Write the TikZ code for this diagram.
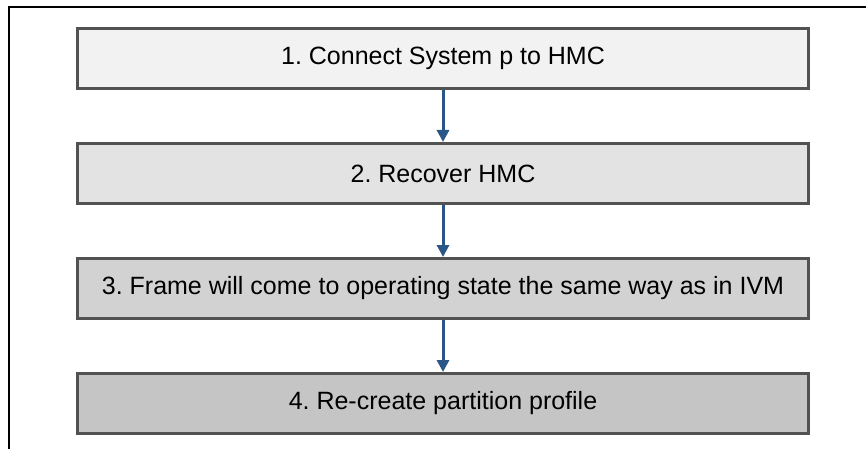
\documentclass[tikz,border=0pt]{standalone}
\usepackage{fontspec}
\setmainfont{Liberation Sans}
\usetikzlibrary{positioning,arrows.meta}
\definecolor{stepedge}{RGB}{82,82,82}
\definecolor{flowblue}{RGB}{42,86,136}
\frenchspacing

\begin{document}
\begin{tikzpicture}[x=1pt,y=-1pt,
    stepbox/.style={draw=stepedge,line width=3pt,minimum width=731pt,minimum height=60pt,
        inner sep=0pt,font=\fontsize{25}{28}\selectfont},
    flow/.style={flowblue,line width=3pt,-{Triangle[width=12pt,length=12pt]}}]
    \useasboundingbox (0,0) rectangle (866,449);

    % Frame
    \draw[line width=1.5pt] (866,7) -- (9,7) -- (9,449);

    % Steps
    \node[stepbox,fill={rgb,255:red,242;green,242;blue,242}] (recon) at (443,58.5) {1. Connect System p to HMC};
    \node[stepbox,fill={rgb,255:red,227;green,227;blue,227},below=52pt of recon] (recover) {2. Recover HMC};
    \node[stepbox,fill={rgb,255:red,210;green,210;blue,210},below=52pt of recover] (frame) {3. Frame will come to operating state the same way as in IVM};
    \node[stepbox,fill={rgb,255:red,197;green,197;blue,197},below=52pt of frame] (profile) {4. Re-create partition profile};

    % Flow arrows
    \foreach \a/\b in {recon/recover, recover/frame, frame/profile} {
        \draw[flow] (\a.south) -- (\b.north);
    }
\end{tikzpicture}
\end{document}
